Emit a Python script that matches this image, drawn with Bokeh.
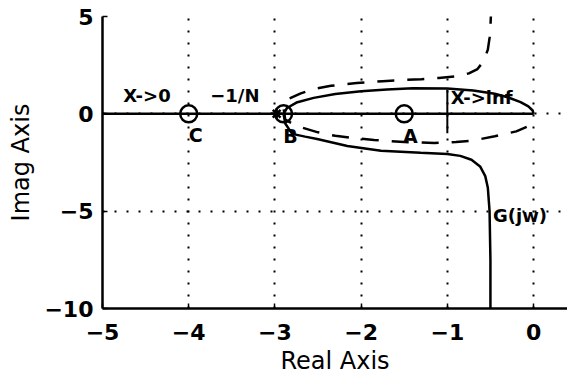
from bokeh.plotting import figure
from bokeh.models import FixedTicker, Range1d
from bokeh.core.properties import value
from bokeh.embed import file_html
from bokeh.resources import INLINE

# ---- data ----
x_ticks = [-5, -4, -3, -2, -1, 0]
x_tick_labels = ["\u22125", "\u22124", "\u22123", "\u22122", "\u22121", "0"]
y_ticks = [-10, -5, 0, 5]
y_tick_labels = ["\u221210", "\u22125", "0", "5"]
x_title = "Real Axis"
y_title = "Imag Axis"

# -1/N locus along the negative real axis
locus_x = [-5.0, 0.0]
locus_y = [0.0, 0.0]

# G(jw), positive frequencies (solid)
g_lower_x = [-2.9, -2.88, -2.8, -2.65, -2.51, -2.16, -1.77, -1.31, -1.0, -0.85,
             -0.72, -0.62, -0.56, -0.53, -0.51, -0.5, -0.5]
g_lower_y = [0.0, -0.5, -1.03, -1.17, -1.29, -1.65, -1.9, -2.0, -2.06, -2.16,
             -2.36, -2.7, -3.2, -3.8, -5.0, -7.5, -10.5]
g_upper_x = [-2.9, -2.86, -2.75, -2.55, -2.3, -2.0, -1.7, -1.4, -1.0, -0.7,
             -0.45, -0.3, -0.15, -0.06, -0.01, 0.0]
g_upper_y = [0.0, 0.3, 0.58, 0.82, 1.02, 1.16, 1.25, 1.31, 1.3, 1.2,
             1.03, 0.85, 0.6, 0.38, 0.17, 0.0]

# G(jw), negative frequencies (dashed)
g_neg_x = [-0.49, -0.5, -0.51, -0.53, -0.58, -0.65, -0.75, -0.9, -1.1, -1.3,
           -1.5, -1.75, -2.05, -2.35, -2.55, -2.7, -2.84, -2.9, -2.88, -2.75,
           -2.5, -2.3, -2.1, -1.85, -1.5, -1.15, -0.9, -0.7, -0.45, -0.2,
           -0.05, 0.02]
g_neg_y = [5.5, 4.5, 3.9, 3.3, 2.7, 2.3, 2.08, 1.92, 1.84, 1.78,
           1.74, 1.68, 1.58, 1.44, 1.28, 1.05, 0.77, 0.3, -0.3, -0.62,
           -0.95, -1.13, -1.24, -1.34, -1.45, -1.5, -1.45, -1.37, -1.15, -0.9,
           -0.62, -0.45]

# operating points A, B, C
pt_x = [-1.5, -2.9, -4.0]
pt_y = [0.0, 0.0, 0.0]
pt_names = ["A", "B", "C"]
pt_label_x = [-1.43, -2.82, -3.92]
pt_label_y = [-1.13, -1.13, -1.08]

# intersection mark near B
star_x = [-2.98]
star_y = [0.0]

# X->inf marker
inf_x = [-1.0, -1.0]
inf_y = [1.25, -1.0]

# other annotations
ann_text = ["X->0", "\u22121/N", "X->inf", "G(jw)"]
ann_x = [-4.76, -3.75, -0.96, -0.47]
ann_y = [0.92, 0.92, 0.85, -5.2]

FONT = "DejaVu Sans"

p = figure(width=567, height=380,
           x_range=Range1d(-5, 0.394), y_range=Range1d(-10, 5),
           output_backend="svg", toolbar_location=None,
           min_border_left=102, min_border_right=0,
           min_border_top=16, min_border_bottom=72)
p.outline_line_color = None
p.background_fill_color = "white"
p.border_fill_color = "white"

for ax, ticks, labels in ((p.xaxis, x_ticks, x_tick_labels),
                          (p.yaxis, y_ticks, y_tick_labels)):
    ax.ticker = FixedTicker(ticks=ticks)
    ax.major_label_overrides = {t: l for t, l in zip(ticks, labels)}
    ax.axis_line_color = "black"
    ax.axis_line_width = 2.5
    ax.major_tick_in = 5
    ax.major_tick_out = 0
    ax.major_tick_line_width = 1.5
    ax.major_tick_line_color = "black"
    ax.minor_tick_line_color = None
    ax.major_label_text_font = FONT
    ax.major_label_text_font_size = "22px"
    ax.major_label_text_font_style = "bold"
    ax.major_label_text_color = "black"
    ax.axis_label_text_font = FONT
    ax.axis_label_text_font_size = "24px"
    ax.axis_label_text_font_style = "normal"
    ax.axis_label_text_color = "black"

p.xaxis.axis_label = x_title
p.yaxis.axis_label = y_title
p.xaxis.major_label_standoff = 15
p.xaxis.axis_label_standoff = 4
p.yaxis.major_label_standoff = 9
p.yaxis.axis_label_standoff = 6

p.xgrid.ticker = FixedTicker(ticks=x_ticks)
p.ygrid.ticker = FixedTicker(ticks=y_ticks)
for g in (p.xgrid, p.ygrid):
    g.grid_line_color = "black"
    g.grid_line_dash = "2 10"
    g.grid_line_width = 2

p.line(locus_x, locus_y, line_color="black", line_width=2.5)
p.line(g_lower_x, g_lower_y, line_color="black", line_width=2.5)
p.line(g_upper_x, g_upper_y, line_color="black", line_width=2.5)
p.line(g_neg_x, g_neg_y, line_color="black", line_width=2.5, line_dash="17 13")
p.line(inf_x, inf_y, line_color="black", line_width=2)

p.scatter(pt_x, pt_y, marker="circle", size=17, fill_color=None,
          line_color="black", line_width=2.5)
p.scatter(star_x, star_y, marker="asterisk", size=11,
          line_color="black", line_width=2.5)

p.text(pt_label_x, pt_label_y, text=pt_names, text_align="center",
       text_baseline="middle", text_font=value(FONT), text_font_style="bold",
       text_font_size="19px", text_color="black")
p.text(ann_x, ann_y, text=ann_text, text_align="left",
       text_baseline="middle", text_font=value(FONT), text_font_style="bold",
       text_font_size="18px", text_color="black")

open("out.html", "w").write(file_html(p, INLINE))
